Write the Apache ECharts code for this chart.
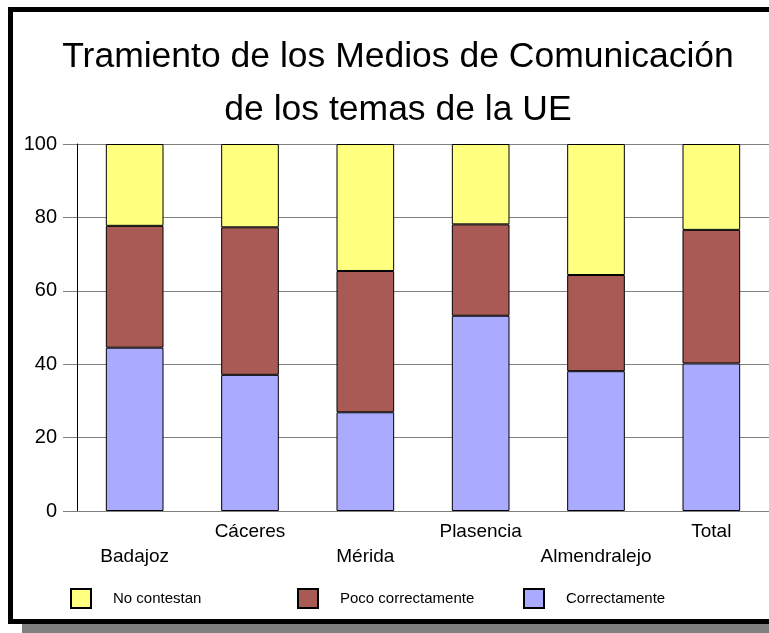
<!DOCTYPE html>
<html>
<head>
<meta charset="utf-8">
<script src="https://cdn.jsdelivr.net/npm/echarts@6/dist/echarts.min.js"></script>
<style>html,body{margin:0;padding:0;background:#fff}#c{width:769px;height:633px}</style>
</head>
<body>
<div id="c"></div>
<script>
var categories = ['Badajoz', 'Cáceres', 'Mérida', 'Plasencia', 'Almendralejo', 'Total'];
var correctamente = [44.5, 37.1, 26.9, 53.2, 38.1, 40.2];
var pocoCorrectamente = [33.2, 40.2, 38.5, 24.9, 26.2, 36.4];
var noContestan = [22.3, 22.7, 34.6, 21.9, 35.7, 23.4];
var titleLines = ['Tramiento de los Medios de Comunicación', 'de los temas de la UE'];
var yTicks = { min: 0, max: 100, interval: 20 };

var FONT = '"Liberation Sans", Arial, sans-serif';
var chart = echarts.init(document.getElementById('c'), null, { renderer: 'canvas' });
function legendAt(name, left) {
  return {
    data: [name], left: left, top: 588, padding: 0, itemWidth: 20, itemHeight: 19,
    icon: 'rect',
    textStyle: { fontFamily: FONT, fontSize: 15, color: '#000', padding: [0, 0, 0, 17] }
  };
}
function titleText(txt, y) {
  return { type: 'text', z: 5, x: 398, y: y,
    style: { text: txt, fill: '#000', font: '35.5px ' + FONT, textAlign: 'center', textVerticalAlign: 'middle' } };
}
chart.setOption({
  backgroundColor: '#fff',
  animation: false,
  graphic: [
    { type: 'rect', z: -10, shape: { x: 22, y: 20, width: 800, height: 613 }, style: { fill: '#808080' } },
    { type: 'rect', z: -9, shape: { x: 10.5, y: 9.5, width: 800, height: 612 }, style: { fill: '#fff', stroke: '#000', lineWidth: 5 } },
    titleText(titleLines[0], 57),
    titleText(titleLines[1], 110)
  ],
  legend: [
    legendAt('No contestan', 70),
    legendAt('Poco correctamente', 297),
    legendAt('Correctamente', 523)
  ],
  grid: { left: 77, right: -3, top: 144, bottom: 122, containLabel: false },
  xAxis: {
    type: 'category', data: categories,
    axisLine: { lineStyle: { color: '#808080', width: 1 } },
    axisTick: { show: false },
    axisLabel: {
      interval: 0, margin: 8, fontFamily: FONT, fontSize: 19, color: '#000', lineHeight: 25,
      formatter: function (v, i) { return i % 2 === 0 ? '\n' + v : v; }
    }
  },
  yAxis: {
    type: 'value', min: yTicks.min, max: yTicks.max, interval: yTicks.interval,
    axisLine: { show: true, lineStyle: { color: '#000', width: 1 } },
    axisTick: { show: true, length: 14, lineStyle: { color: '#808080' } },
    splitLine: { lineStyle: { color: '#808080', width: 1 } },
    axisLabel: { margin: 20, fontFamily: FONT, fontSize: 20, color: '#000' }
  },
  series: [
    { name: 'Correctamente', type: 'bar', stack: 's', barWidth: '50%', data: correctamente,
      itemStyle: { color: '#aaaaff', borderColor: '#000', borderWidth: 1 } },
    { name: 'Poco correctamente', type: 'bar', stack: 's', data: pocoCorrectamente,
      itemStyle: { color: '#aa5a55', borderColor: '#000', borderWidth: 1 } },
    { name: 'No contestan', type: 'bar', stack: 's', data: noContestan,
      itemStyle: { color: '#ffff80', borderColor: '#000', borderWidth: 1 } }
  ]
});
</script>
</body>
</html>
